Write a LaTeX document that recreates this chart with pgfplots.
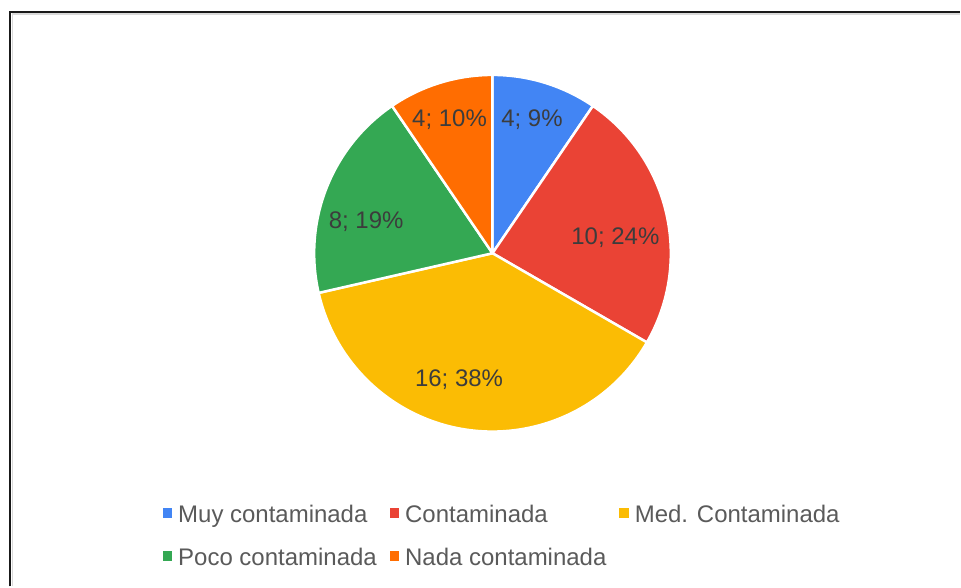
\documentclass[border=0pt]{standalone}
\usepackage{fontspec}
\setmainfont{Liberation Sans}
\usepackage{pgfplots}
\usepackage{pgfplotstable}
\pgfplotsset{compat=1.18}

\definecolor{gblue}{HTML}{4285F4}
\definecolor{gred}{HTML}{EA4335}
\definecolor{gyellow}{HTML}{FBBC04}
\definecolor{ggreen}{HTML}{34A853}
\definecolor{gorange}{HTML}{FF6D01}
\definecolor{labeltext}{HTML}{3C3C3C}
\definecolor{legendtext}{HTML}{5A5A5A}

% value, shown percent, colour, label position (x centre, baseline y, picture px)
\pgfplotstableread[col sep=comma]{
name,value,pct,col,lx,ly
Muy contaminada,4,9,gblue,532.5,126.7
Contaminada,10,24,gred,616,245
Med. Contaminada,16,38,gyellow,459.5,386.7
Poco contaminada,8,19,ggreen,366.5,228.3
Nada contaminada,4,10,gorange,450,126.7
}\piedata

\tikzset{pielabel/.style={font=\fontsize{24}{28}\selectfont, text=labeltext, inner sep=0pt}}

\begin{document}
\begin{tikzpicture}
\begin{axis}[
    scale only axis, width=961pt, height=587pt,
    xmin=0, xmax=961, ymin=0, ymax=587, y dir=reverse,
    axis lines=none, clip=false,
    legend columns=3,
    legend cell align=left,
    legend image code/.code={\fill[#1] (0pt,0pt) rectangle (8.5pt,8.5pt);},
    legend style={draw=none, fill=none, at={(axis cs:163,505.3)}, anchor=north west,
        inner sep=0pt, outer sep=0pt,
        font=\fontsize{24}{28}\selectfont, text=legendtext,
        nodes={inner sep=0pt, text height=18pt, text depth=6pt},
        column sep=6.5pt, row sep=19pt,
        /tikz/every even column/.append style={column sep=13pt}},
]
% page = whole chart area
\path (axis cs:0,0) rectangle (axis cs:961,587);
% frame
\draw[line width=1.5pt, black!15] (axis cs:12.5,587) -- (axis cs:12.5,14) -- (axis cs:961,14);
\draw[line width=2pt, black!90] (axis cs:10,587) -- (axis cs:10,12) -- (axis cs:961,12);

\pgfplotstablegetrowsof{\piedata}
\pgfmathtruncatemacro\lastrow{\pgfplotsretval-1}
\def\total{0}
\pgfplotsforeachungrouped \i in {0,...,\lastrow}{%
    \pgfplotstablegetelem{\i}{value}\of\piedata
    \pgfmathsetmacro\total{\total+\pgfplotsretval}%
}
\def\startang{90}
\pgfplotsforeachungrouped \i in {0,...,\lastrow}{%
    \pgfplotstablegetelem{\i}{value}\of\piedata \let\val\pgfplotsretval
    \pgfplotstablegetelem{\i}{col}\of\piedata \let\col\pgfplotsretval
    \pgfmathsetmacro\endang{\startang-360*\val/\total}%
    \edef\cmd{\noexpand\fill[\col, draw=white, line width=2.5pt, line join=round]
        (axis cs:493,253.5) -- ++(\startang:178.5pt)
        arc[start angle=\startang, end angle=\endang, radius=178.5pt] -- cycle;}%
    \cmd
    \let\startang\endang
}
\pgfplotsforeachungrouped \i in {0,...,\lastrow}{%
    \pgfplotstablegetelem{\i}{value}\of\piedata \let\val\pgfplotsretval
    \pgfplotstablegetelem{\i}{pct}\of\piedata \let\pct\pgfplotsretval
    \pgfplotstablegetelem{\i}{lx}\of\piedata \let\lx\pgfplotsretval
    \pgfplotstablegetelem{\i}{ly}\of\piedata \let\ly\pgfplotsretval
    \pgfplotstablegetelem{\i}{col}\of\piedata \let\col\pgfplotsretval
    \pgfplotstablegetelem{\i}{name}\of\piedata \let\name\pgfplotsretval
    \edef\cmd{\noexpand\node[pielabel, anchor=base] at (axis cs:\lx,\ly) {\val; \pct\noexpand\%};
        \noexpand\addlegendimage{\col}\noexpand\addlegendentry{\name}}%
    \cmd
}
\end{axis}
\end{tikzpicture}
\end{document}
